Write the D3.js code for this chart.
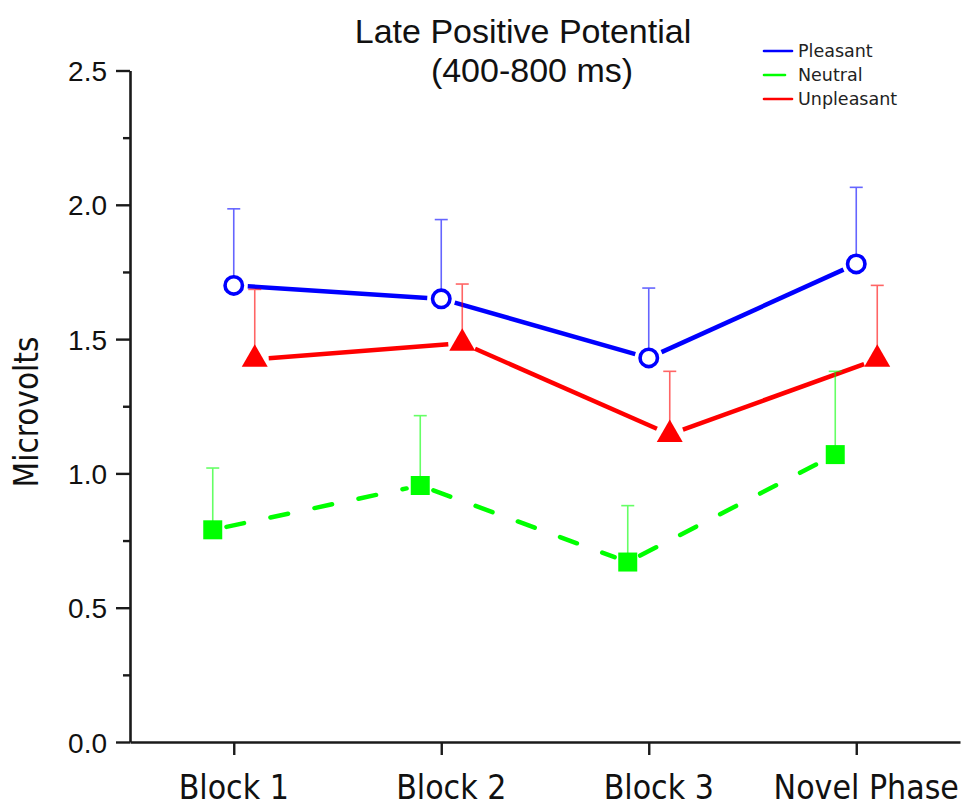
<!DOCTYPE html>
<html>
<head>
<meta charset="utf-8">
<script src="https://cdn.jsdelivr.net/npm/d3@7"></script>
<style>
  html, body { margin: 0; padding: 0; background: #ffffff; }
  svg { display: block; }
</style>
</head>
<body>
<script>
// Category labels along the x axis
const categories = ["Block 1", "Block 2", "Block 3", "Novel Phase"];

// Mean amplitude (microvolts) per condition
const pleasant   = [1.70, 1.65, 1.43, 1.78];
const neutral    = [0.79, 0.955, 0.67, 1.07];
const unpleasant = [1.425, 1.485, 1.145, 1.425];

// Upper error (standard error) per condition
const pleasantErr   = [0.285, 0.295, 0.26, 0.285];
const neutralErr    = [0.23, 0.26, 0.21, 0.31];
const unpleasantErr = [0.26, 0.22, 0.235, 0.275];

// Axis tick values
const yTicks = [0, 0.5, 1.0, 1.5, 2.0, 2.5];
const yMinorTicks = [0.25, 0.75, 1.25, 1.75, 2.25];

const titleLines = ["Late Positive Potential", "(400-800 ms)"];
const yLabel = "Microvolts";
const legendNames = ["Pleasant", "Neutral", "Unpleasant"];

const W = 969, H = 807;
const svg = d3.select("body").append("svg").attr("width", W).attr("height", H);

const x = d3.scalePoint().domain(categories).range([130, 960]).padding(0.5);
const y = d3.scaleLinear().domain([0, 2.5]).range([742, 70.5]);

const series = [
  { name: legendNames[0], values: pleasant,   err: pleasantErr,   color: "#0000ff", dx: 0,   marker: "circle",   dash: null },
  { name: legendNames[1], values: neutral,    err: neutralErr,    color: "#00ff00", dx: -21, marker: "square",   dash: "18,27" },
  { name: legendNames[2], values: unpleasant, err: unpleasantErr, color: "#ff0000", dx: 21,  marker: "triangle", dash: null }
];

const axisColor = "#1a1a1a";
const condFont = "'DejaVu Sans Condensed', 'DejaVu Sans', Verdana, sans-serif";

// ---- Y axis ----
const yAxis = svg.append("g").attr("transform", "translate(130,0)")
  .call(d3.axisLeft(y).tickValues(yTicks).tickSize(14).tickSizeOuter(0)
        .tickPadding(9).tickFormat(d3.format(".1f")));
yAxis.select(".domain").attr("stroke", axisColor).attr("stroke-width", 2.6);
yAxis.selectAll(".tick line").attr("stroke", axisColor).attr("stroke-width", 2.4);
yAxis.selectAll(".tick text")
  .attr("fill", "#111").attr("dy", "0.36em")
  .style("font-family", "'Liberation Sans', Arial, sans-serif")
  .style("font-size", "28px");

const yMinor = svg.append("g").attr("transform", "translate(130,0)")
  .call(d3.axisLeft(y).tickValues(yMinorTicks).tickSize(7).tickSizeOuter(0).tickFormat(""));
yMinor.select(".domain").remove();
yMinor.selectAll(".tick line").attr("stroke", axisColor).attr("stroke-width", 2.4);

// ---- X axis ----
const xAxis = svg.append("g").attr("transform", "translate(0,742)")
  .call(d3.axisBottom(x).tickSize(13).tickSizeOuter(0).tickFormat(""));
xAxis.select(".domain").attr("stroke", axisColor).attr("stroke-width", 2.6);
xAxis.selectAll(".tick line").attr("stroke", axisColor).attr("stroke-width", 2.4);

// category labels, nudged slightly right after the first
svg.append("g").selectAll("text").data(categories).join("text")
  .attr("x", (d, i) => x(d) + (i === 0 ? 0 : 10))
  .attr("y", 799)
  .attr("text-anchor", "middle")
  .attr("fill", "#111")
  .style("font-family", condFont)
  .style("font-size", "33.5px")
  .text(d => d);

// ---- Y axis title ----
svg.append("text")
  .attr("transform", "translate(38,412) rotate(-90)")
  .attr("text-anchor", "middle")
  .attr("fill", "#111")
  .style("font-family", condFont)
  .style("font-size", "33px")
  .text(yLabel);

// ---- Chart title ----
svg.append("text").attr("x", 523).attr("y", 43).attr("text-anchor", "middle")
  .attr("fill", "#111").style("font-family", "'Liberation Sans', Arial, sans-serif")
  .style("font-size", "34px").text(titleLines[0]);
svg.append("text").attr("x", 532).attr("y", 82).attr("text-anchor", "middle")
  .attr("fill", "#111").style("font-family", "'Liberation Sans', Arial, sans-serif")
  .style("font-size", "34px").text(titleLines[1]);

// ---- Data ----
const trim = 14;
const line = d3.line();
const plot = svg.append("g");

series.forEach(s => {
  const pts = s.values.map((v, i) => [x(categories[i]) + s.dx, y(v)]);

  // connecting segments, pulled back from each marker
  const g = plot.append("g");
  for (let i = 0; i < pts.length - 1; i++) {
    const [x0, y0] = pts[i], [x1, y1] = pts[i + 1];
    const len = Math.hypot(x1 - x0, y1 - y0);
    const ux = (x1 - x0) / len, uy = (y1 - y0) / len;
    const seg = [[x0 + ux * trim, y0 + uy * trim], [x1 - ux * trim, y1 - uy * trim]];
    g.append("path").attr("d", line(seg))
      .attr("fill", "none").attr("stroke", s.color).attr("stroke-width", 4.5)
      .attr("stroke-linecap", s.dash ? "round" : "butt")
      .attr("stroke-dasharray", s.dash);
  }
  s.pts = pts;
});

series.forEach(s => {
  // upper error bars
  const eb = plot.append("g").attr("stroke", s.color).attr("stroke-width", 1.6).attr("opacity", 0.6);
  s.values.forEach((v, i) => {
    const cx = x(categories[i]) + s.dx;
    const top = y(v + s.err[i]);
    eb.append("line").attr("x1", cx).attr("x2", cx).attr("y1", y(v)).attr("y2", top);
    eb.append("line").attr("x1", cx - 6.5).attr("x2", cx + 6.5).attr("y1", top).attr("y2", top);
  });
});

series.forEach(s => {
  const mg = plot.append("g");
  s.pts.forEach(([px, py]) => {
    if (s.marker === "circle") {
      mg.append("circle").attr("cx", px).attr("cy", py).attr("r", 8.7)
        .attr("fill", "#ffffff").attr("stroke", s.color).attr("stroke-width", 3.6);
    } else if (s.marker === "square") {
      mg.append("path").attr("transform", `translate(${px},${py})`)
        .attr("d", d3.symbol(d3.symbolSquare, 361)()).attr("fill", s.color);
    } else {
      mg.append("path").attr("transform", `translate(${px},${py})`)
        .attr("d", d3.symbol(d3.symbolTriangle, 292)()).attr("fill", s.color);
    }
  });
});

// ---- Legend ----
const legend = svg.append("g");
const legendY = [51, 75, 99];
series.forEach((s, i) => {
  legend.append("line")
    .attr("x1", 764).attr("x2", 792).attr("y1", legendY[i]).attr("y2", legendY[i])
    .attr("stroke", s.color).attr("stroke-width", 2.6)
    .attr("stroke-linecap", "round")
    .attr("stroke-dasharray", s.dash ? "21,27" : null);
  legend.append("text")
    .attr("x", 798).attr("y", legendY[i] + 6.2)
    .attr("fill", "#222")
    .style("font-family", "'DejaVu Sans', Verdana, sans-serif")
    .style("font-size", "17.5px")
    .text(s.name);
});
</script>
</body>
</html>
